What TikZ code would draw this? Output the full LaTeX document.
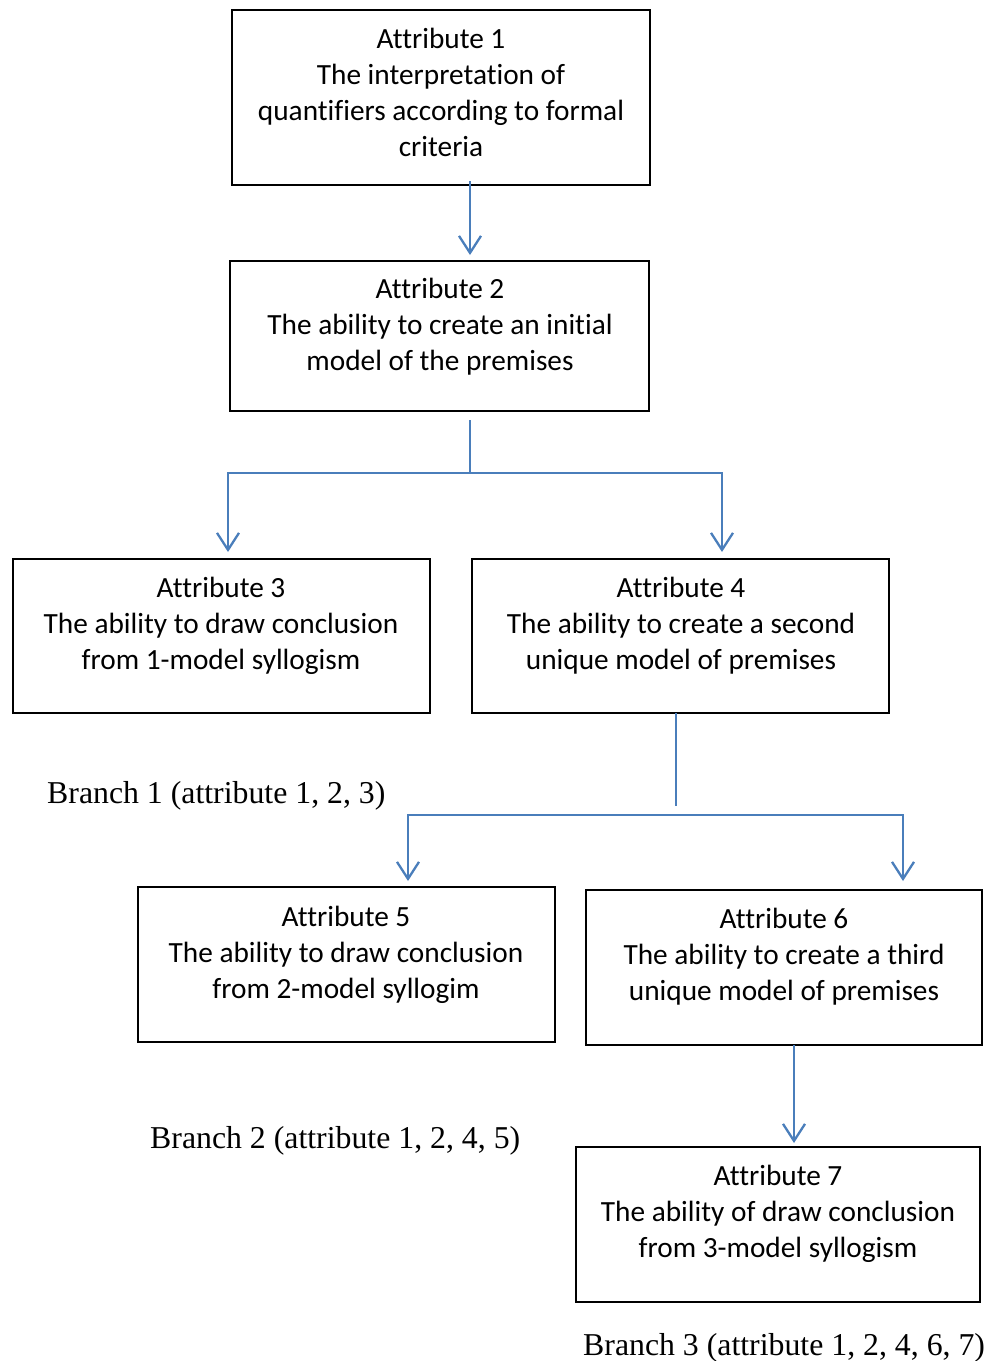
\documentclass[tikz,border=0pt]{standalone}
\usepackage{fontspec}
\setmainfont{Carlito}[Ligatures=NoCommon]
\newfontfamily\tnr{Liberation Serif}
\usetikzlibrary{arrows.meta}
\definecolor{linkblue}{HTML}{4A7EBB}
\begin{document}
\begin{tikzpicture}[x=1pt,y=-1pt,
  box/.style={draw=black, line width=2pt, rectangle, inner sep=0pt},
  txt/.style={align=center, inner sep=0pt, font=\fontsize{29.3}{36}\selectfont},
  branch/.style={inner sep=0pt, font=\tnr\fontsize{31.8}{36}\selectfont},
  link/.style={draw=linkblue, line width=2.3pt},
  arr/.style={link, -{Straight Barb[length=17pt,width=22pt,line width=2.3pt]}}]
\useasboundingbox (0,0) rectangle (987,1361);
% boxes
\node[box, minimum width=418pt, minimum height=175pt] (b1) at (441,97.5) {};
\node[box, minimum width=419pt, minimum height=150pt] (b2) at (439.5,336) {};
\node[box, minimum width=417pt, minimum height=154pt] (b3) at (221.5,636) {};
\node[box, minimum width=417pt, minimum height=154pt] (b4) at (680.5,636) {};
\node[box, minimum width=417pt, minimum height=155pt] (b5) at (346.5,964.5) {};
\node[box, minimum width=396pt, minimum height=155pt] (b6) at (784,967.5) {};
\node[box, minimum width=404pt, minimum height=155pt] (b7) at (778,1224.5) {};
% texts
\node[txt] (t1) at (441,92.5) {Attribute 1\\The interpretation of\\quantifiers according to formal\\criteria};
\node[txt] (t2) at (440,327) {Attribute 2\\The ability to create an initial\\model of the premises};
\node[txt] (t3) at (221,625.5) {Attribute 3\\The ability to draw conclusion\\from 1-model syllogism};
\node[txt] (t4) at (681,625.5) {Attribute 4\\The ability to create a second\\unique model of premises};
\node[txt] (t5) at (346,954.5) {Attribute 5\\The ability to draw conclusion\\from 2-model syllogim};
\node[txt] (t6) at (784,957) {Attribute 6\\The ability to create a third\\unique model of premises};
\node[txt] (t7) at (778,1214) {Attribute 7\\The ability of draw conclusion\\from 3-model syllogism};
% branch labels
\node[branch, anchor=west] (l1) at (47,796) {Branch 1 (attribute 1, 2, 3)};
\node[branch, anchor=west] (l2) at (150,1141) {Branch 2 (attribute 1, 2, 4, 5)};
\node[branch, anchor=west] (l3) at (583,1348) {Branch 3 (attribute 1, 2, 4, 6, 7)};
% connectors
\coordinate (s1) at (470,181);
\coordinate (e1) at (470,255);
\draw[arr] (s1) -- (e1);
\coordinate (s2) at (470,420);
\coordinate (j2) at (470,473);
\coordinate (l2a) at (228,473);
\coordinate (r2a) at (722,473);
\coordinate (l2e) at (228,552);
\coordinate (r2e) at (722,552);
\draw[link] (s2) -- (j2);
\draw[arr] (j2) -- (l2a) -- (l2e);
\draw[arr] (j2) -- (r2a) -- (r2e);
\coordinate (s3) at (676,713);
\coordinate (j3) at (676,806);
\coordinate (m3) at (676,815);
\coordinate (l3a) at (408,815);
\coordinate (r3a) at (903,815);
\coordinate (l3e) at (408,881);
\coordinate (r3e) at (903,881);
\draw[link] (s3) -- (j3);
\draw[arr] (m3) -- (l3a) -- (l3e);
\draw[arr] (m3) -- (r3a) -- (r3e);
\coordinate (s4) at (794,1045);
\coordinate (e4) at (794,1143);
\draw[arr] (s4) -- (e4);
\end{tikzpicture}
\end{document}
